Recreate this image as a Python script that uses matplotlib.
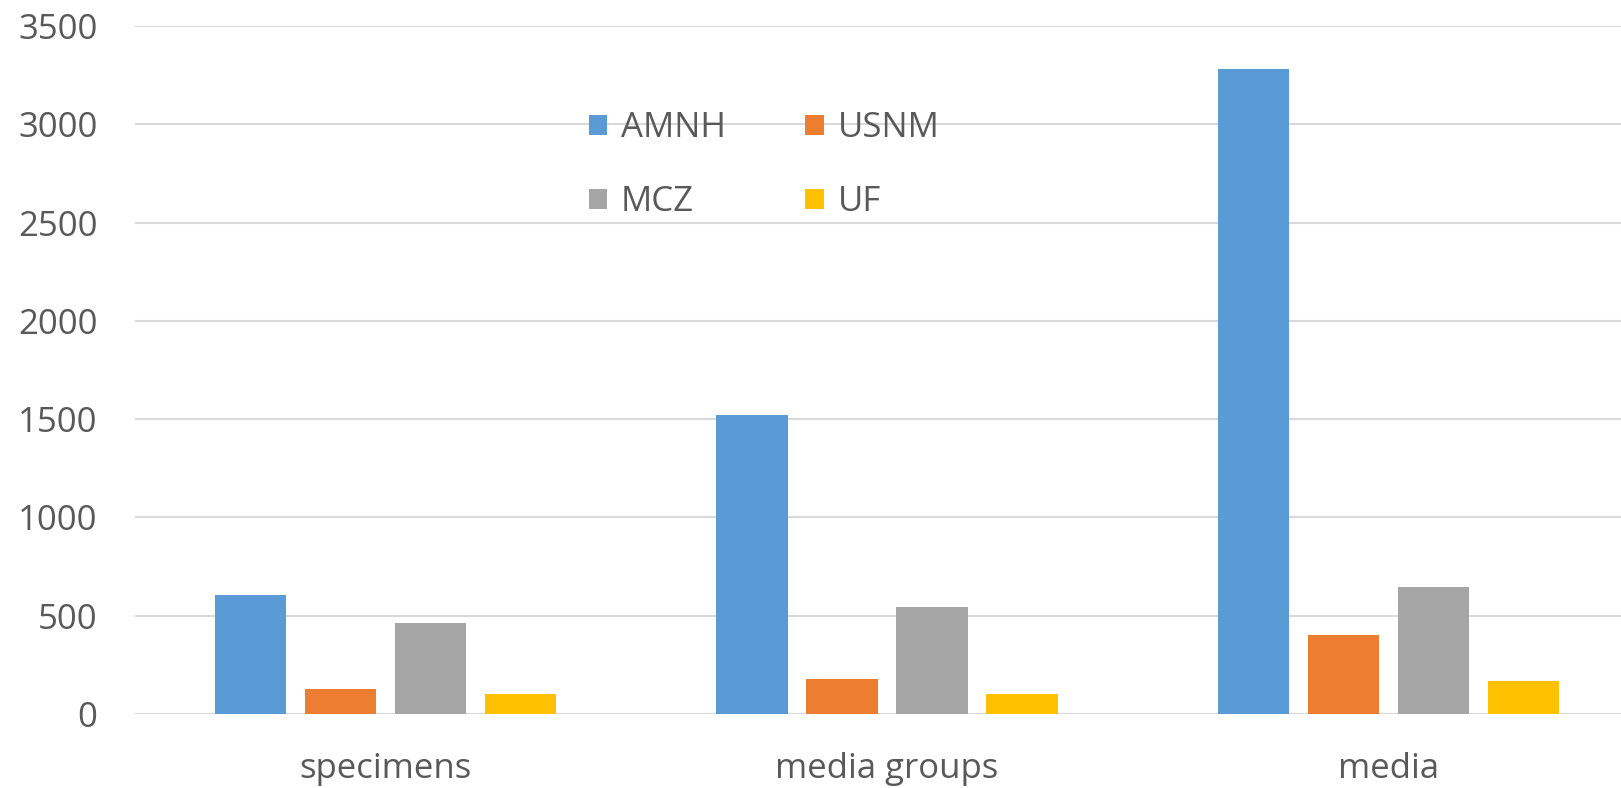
import numpy as np
import matplotlib
matplotlib.use('Agg')
import matplotlib.pyplot as plt
from matplotlib.patches import Patch

categories = ['specimens', 'media groups', 'media']
series_names = ['AMNH', 'USNM', 'MCZ', 'UF']
amnh = [605, 1520, 3280]
usnm = [125, 180, 400]
mcz = [465, 545, 645]
uf = [100, 100, 170]
yticks = [0, 500, 1000, 1500, 2000, 2500, 3000, 3500]

colors = ['#5B9BD5', '#ED7D31', '#A5A5A5', '#FFC000']
text_color = '#595959'

plt.rcParams['font.family'] = ['Open Sans', 'DejaVu Sans']

W, H = 1621, 788
fig = plt.figure(figsize=(W / 100, H / 100), dpi=100)
ax = fig.add_axes([135 / W, (H - 714) / H, 1 - 135 / W, (714 - 26) / H])

x = np.arange(len(categories))
step = 0.1795
width = 0.142
all_series = [amnh, usnm, mcz, uf]
for i, (vals, c, name) in enumerate(zip(all_series, colors, series_names)):
    ax.bar(x + (i - 1.5) * step, vals, width, color=c, label=name, zorder=3)

ax.set_ylim(0, 3500)
ax.set_xlim(-0.5, 2.5 - 18 / 501.4)
ax.set_yticks(yticks)
ax.set_yticklabels([str(t) for t in yticks])
ax.set_xticks(x)
ax.set_xticklabels(categories)
ax.grid(axis='y', color='#D9D9D9', linewidth=1.5, zorder=0)
ax.set_axisbelow(True)
for s in ax.spines.values():
    s.set_visible(False)
ax.tick_params(axis='both', length=0, labelsize=25, colors=text_color)
ax.tick_params(axis='y', pad=27)
ax.tick_params(axis='x', pad=27)

# legend fills column-wise, so order handles to read AMNH USNM / MCZ UF by row
handles = [Patch(facecolor=c, label=n) for c, n in zip(colors, series_names)]
handles = [handles[0], handles[2], handles[1], handles[3]]
leg = fig.legend(handles=handles, ncol=2, frameon=False, loc='upper left',
                 bbox_to_anchor=(589 / W, 1 - 111 / H), fontsize=25,
                 borderpad=0, borderaxespad=0,
                 handlelength=0.52, handleheight=0.52, handletextpad=0.4,
                 columnspacing=2.29, labelspacing=1.16)
for t in leg.get_texts():
    t.set_color(text_color)

fig.savefig('out.png', dpi=100)
